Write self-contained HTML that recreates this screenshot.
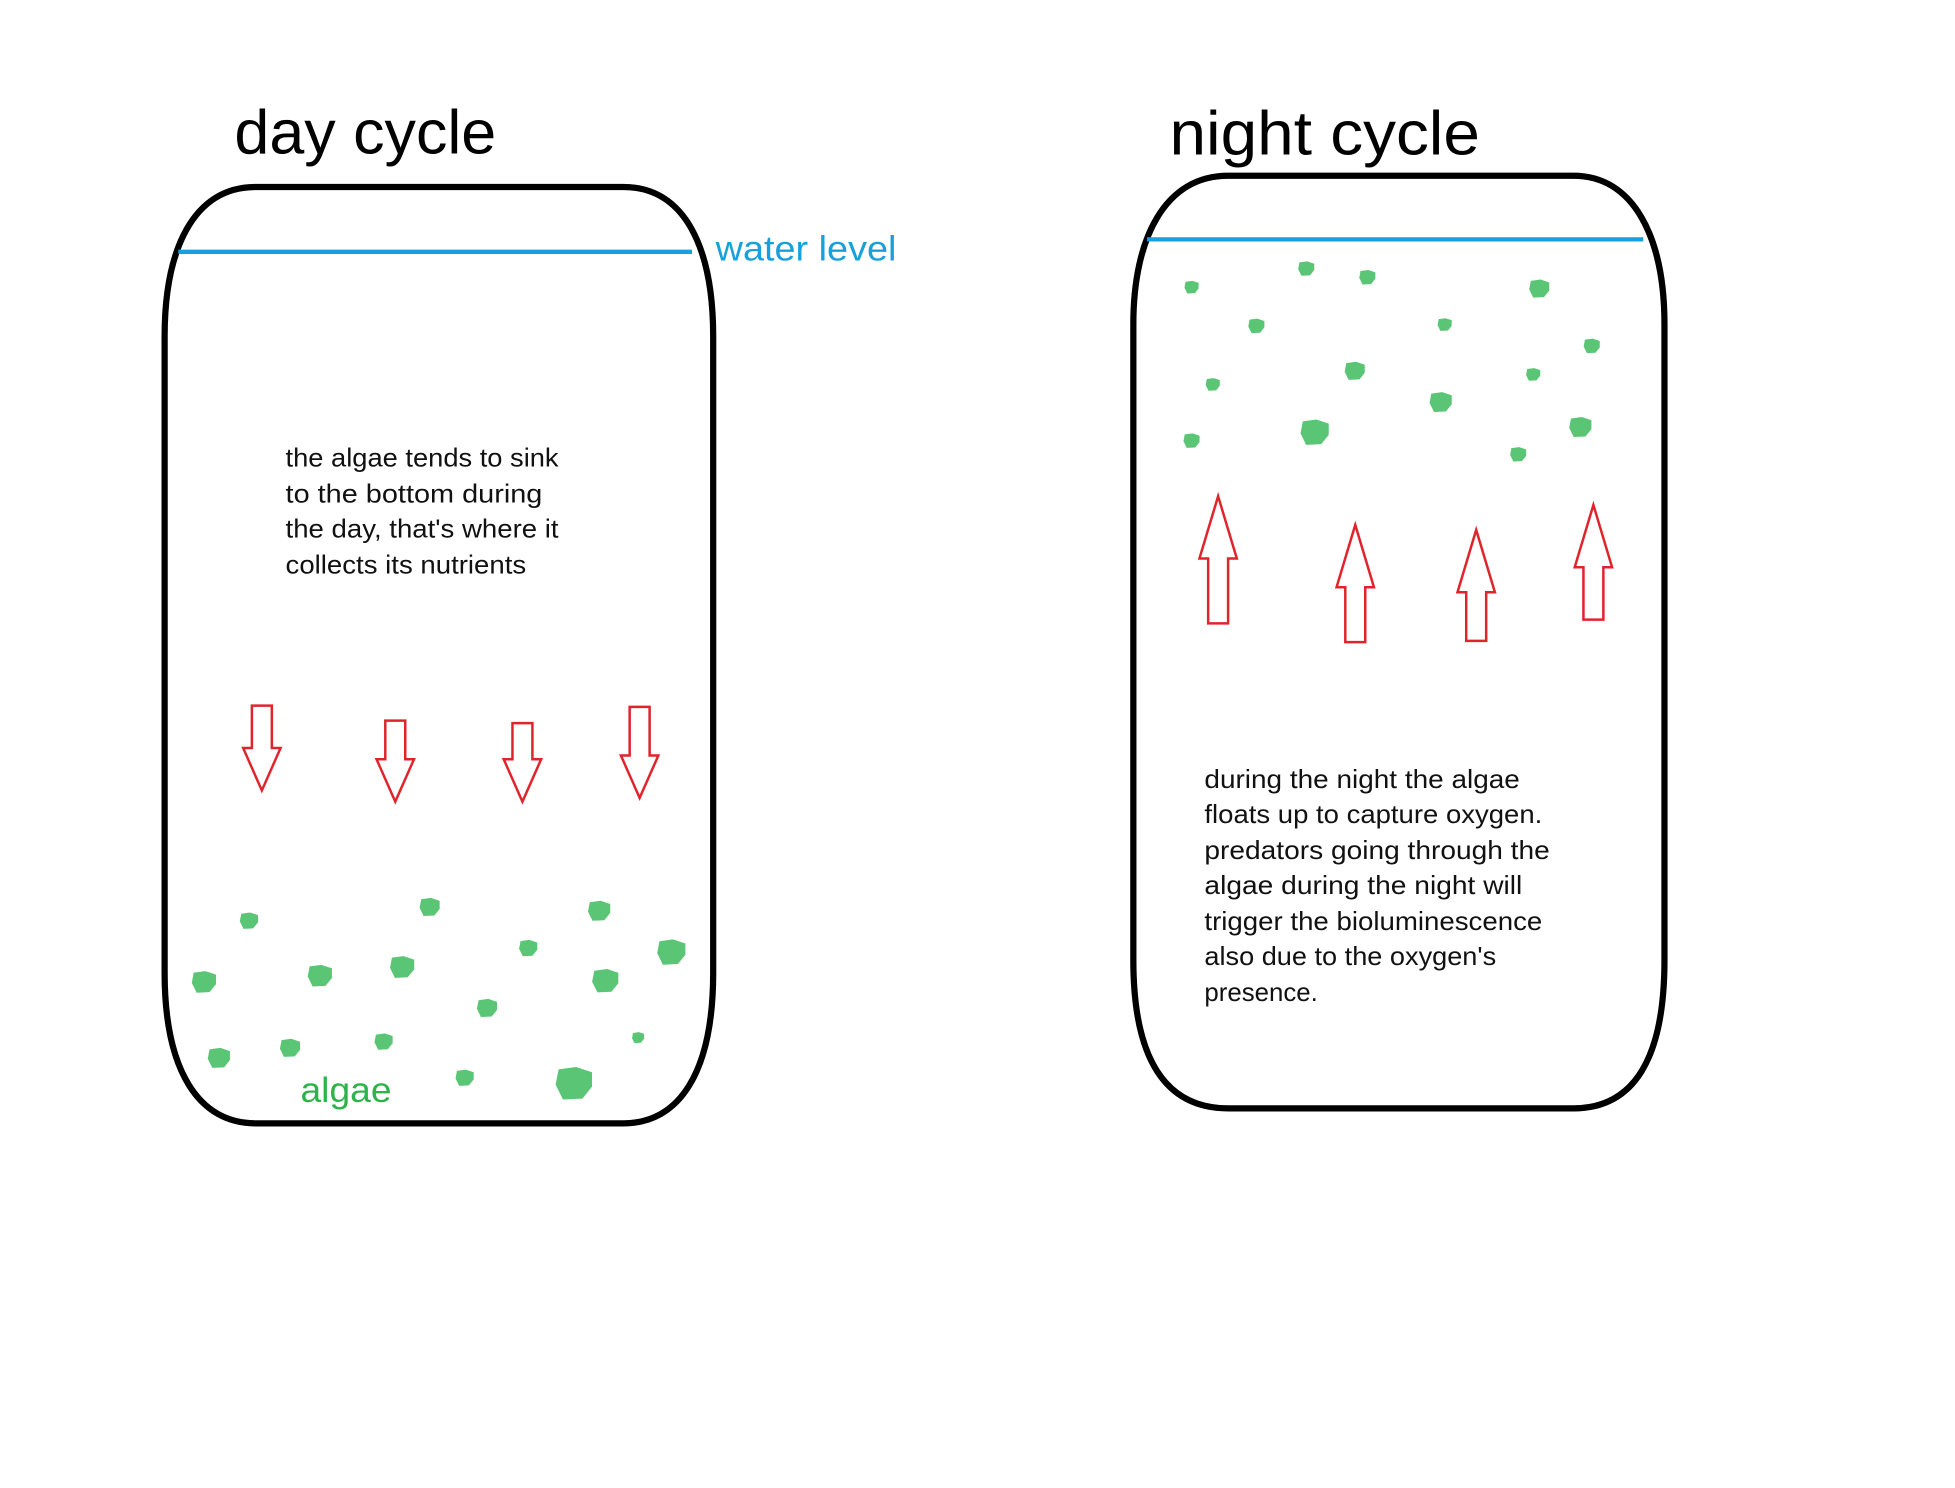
<!DOCTYPE html>
<html><head><meta charset="utf-8">
<style>
html,body{margin:0;padding:0;background:#fff;}
svg{display:block;}
text{font-family:"Liberation Sans","DejaVu Sans",sans-serif;}
</style></head>
<body>
<svg id="s" width="1955" height="1488" viewBox="0 0 1568 1193.5" xmlns="http://www.w3.org/2000/svg">
<rect width="1568" height="1193.5" fill="#fff"/>
<text x="188" y="123" font-size="50" fill="#000" textLength="210" lengthAdjust="spacingAndGlyphs">day cycle</text>
<text x="938" y="124" font-size="50" fill="#000" textLength="249" lengthAdjust="spacingAndGlyphs">night cycle</text>

<path d="M205,150 L500,150 C550,150 572,200 572,270 L572,780 C572,860 545,901 500,901 L205,901 C160,901 132,860 132,780 L132,270 C132,200 155,150 205,150 Z" fill="none" stroke="#000" stroke-width="5"/>
<line x1="143" y1="202" x2="555" y2="202" stroke="#17a1dc" stroke-width="3.5"/>
<text x="574" y="209" font-size="28" fill="#17a1dc" textLength="145" lengthAdjust="spacingAndGlyphs">water level</text>

<path d="M985,141 L1262,141 C1310,141 1335,190 1335,260 L1335,770 C1335,850 1310,889 1262,889 L985,889 C935,889 909,850 909,770 L909,260 C909,190 935,141 985,141 Z" fill="none" stroke="#000" stroke-width="5"/>
<line x1="920" y1="192" x2="1318" y2="192" stroke="#17a1dc" stroke-width="3.5"/>

<g font-size="20.5" fill="#111" lengthAdjust="spacingAndGlyphs">
<text x="229" y="374" textLength="219" lengthAdjust="spacingAndGlyphs">the algae tends to sink</text>
<text x="229" y="403" textLength="206" lengthAdjust="spacingAndGlyphs">to the bottom during</text>
<text x="229" y="431" textLength="219" lengthAdjust="spacingAndGlyphs">the day, that's where it</text>
<text x="229" y="460" textLength="193" lengthAdjust="spacingAndGlyphs">collects its nutrients</text>
</g>
<g font-size="20.5" fill="#111">
<text x="966" y="632" textLength="253" lengthAdjust="spacingAndGlyphs">during the night the algae</text>
<text x="966" y="660" textLength="271" lengthAdjust="spacingAndGlyphs">floats up to capture oxygen.</text>
<text x="966" y="689" textLength="277" lengthAdjust="spacingAndGlyphs">predators going through the</text>
<text x="966" y="717" textLength="255" lengthAdjust="spacingAndGlyphs">algae during the night will</text>
<text x="966" y="746" textLength="271" lengthAdjust="spacingAndGlyphs">trigger the bioluminescence</text>
<text x="966" y="774" textLength="234" lengthAdjust="spacingAndGlyphs">also due to the oxygen's</text>
<text x="966" y="803" textLength="91" lengthAdjust="spacingAndGlyphs">presence.</text>
</g>
<text x="241" y="884" font-size="28" fill="#2db34a" textLength="73" lengthAdjust="spacingAndGlyphs">algae</text>
<g id="arrows"></g>
<g id="algae"></g>
</svg>
<script>
const NS="http://www.w3.org/2000/svg";
const downArrows=[[210,566,634],[317,578,643],[419,580,643],[513,567,640]];
const upArrows=[[977,398,500],[1087,421,515],[1184,425,514],[1278,405,497]];
const ag=document.getElementById('arrows');
function arrow(cx,a,b,up){
  const sw=8,hw=15,hl=up?50:34;
  let d;
  if(!up){d=`M${cx-sw},${a} L${cx+sw},${a} L${cx+sw},${b-hl} L${cx+hw},${b-hl} L${cx},${b} L${cx-hw},${b-hl} L${cx-sw},${b-hl} Z`;}
  else{d=`M${cx-sw},${b} L${cx+sw},${b} L${cx+sw},${a+hl} L${cx+hw},${a+hl} L${cx},${a} L${cx-hw},${a+hl} L${cx-sw},${a+hl} Z`;}
  const p=document.createElementNS(NS,'path');
  p.setAttribute('d',d);p.setAttribute('fill','none');p.setAttribute('stroke','#e0242c');p.setAttribute('stroke-width','2');
  
  
  ag.appendChild(p);
}
downArrows.forEach(a=>arrow(a[0],a[1],a[2],false));
upArrows.forEach(a=>arrow(a[0],a[1],a[2],true));
const dayAlgae=[[200,738,9],[164,787,12],[257,782,12],[323,775,12],[345,727,10],[424,760,9],[481,730,11],[486,786,13],[539,763,14],[391,808,10],[176,848,11],[233,840,10],[308,835,9],[373,864,9],[461,868,18],[512,832,6]];
const nightAlgae=[[956,230,7],[1048,215,8],[1097,222,8],[1235,231,10],[1008,261,8],[1159,260,7],[1277,277,8],[973,308,7],[1087,297,10],[1230,300,7],[1156,322,11],[956,353,8],[1055,346,14],[1268,342,11],[1218,364,8]];
const gg=document.getElementById('algae');
function blob(x,y,r){
  const n=7;let pts=[];
  for(let i=0;i<n;i++){const t=i/n*Math.PI*2+0.3;const rr=r*(0.8+0.25*((i*37)%5)/4);pts.push((x+rr*Math.cos(t)).toFixed(1)+','+(y+rr*Math.sin(t)*0.85).toFixed(1));}
  const p=document.createElementNS(NS,'polygon');
  p.setAttribute('points',pts.join(' '));p.setAttribute('fill','#3dbb5c');p.setAttribute('fill-opacity','0.85');
  
  
  gg.appendChild(p);
}
dayAlgae.forEach(b=>blob(b[0],b[1],b[2]));
nightAlgae.forEach(b=>blob(b[0],b[1],b[2]));
</script>
</body></html>
